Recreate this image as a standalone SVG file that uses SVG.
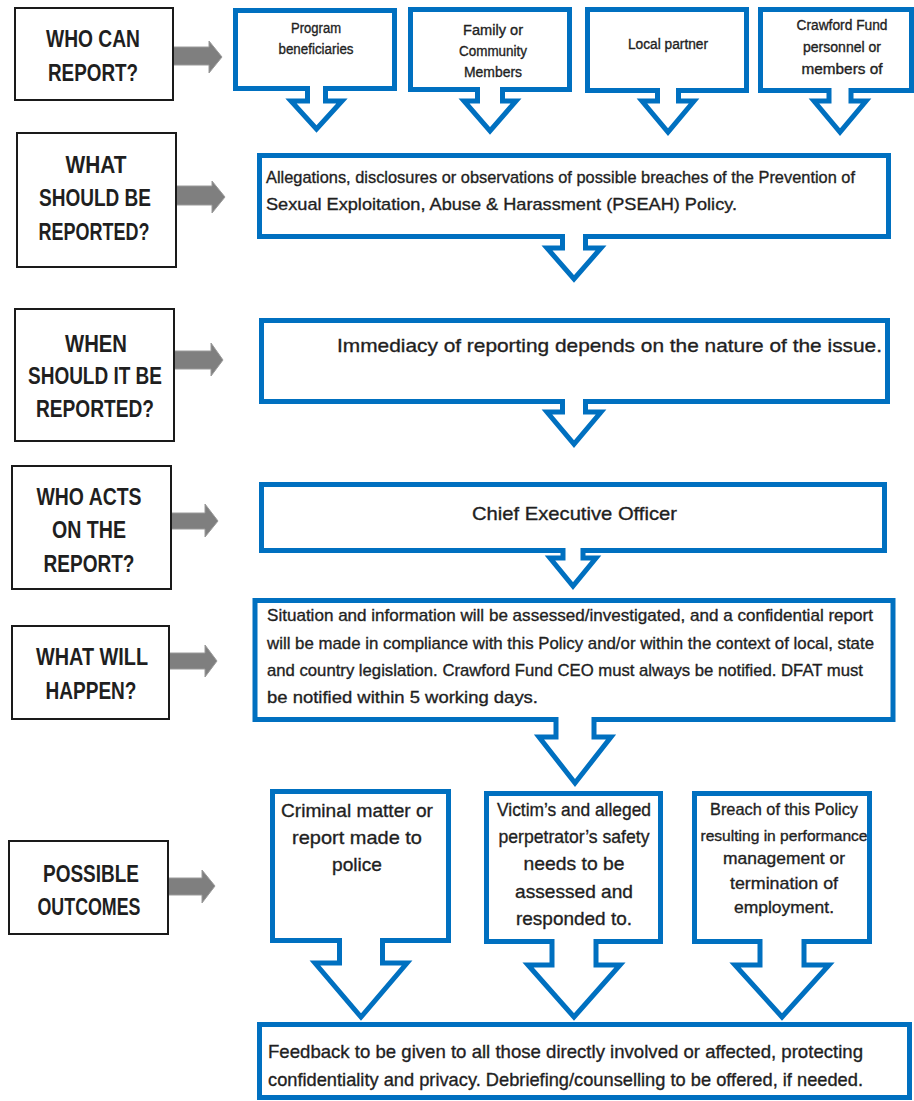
<svg xmlns="http://www.w3.org/2000/svg" width="914" height="1101" viewBox="0 0 914 1101">
<style>
.q{fill:#fff;stroke:#1a1a1a;stroke-width:2}
.c{fill:#fff;stroke:#0070C0;stroke-width:5;stroke-linejoin:miter}
.ga{fill:#7f7f7f;stroke:#9a9a9a;stroke-width:1}
.h{font-family:"Liberation Sans Narrow","Liberation Sans",Arial,sans-serif;font-weight:bold;font-size:23px;fill:#1f1f1f;text-anchor:middle}
.t{font-family:"Liberation Sans Narrow","Liberation Sans",Arial,sans-serif;fill:#1f1f1f;stroke:#1f1f1f;stroke-width:0.35}
.m{text-anchor:middle}
</style>
<rect width="914" height="1101" fill="#fff"/>
<g id="connectors">
<polygon class="ga" points="173,47 209,47 209,41 222,57 209,73 209,65 173,65"/>
<polygon class="ga" points="176,186 212,186 212,181 225,197 212,213 212,205 176,205"/>
<polygon class="ga" points="174,351 211,351 211,343 223,360 211,376 211,369 174,369"/>
<polygon class="ga" points="171,513 205,513 205,504 218,521 205,537 205,529 171,529"/>
<polygon class="ga" points="169,653 205,653 205,645 217,661 205,677 205,669 169,669"/>
<polygon class="ga" points="168,878 202,878 202,870 215,886 202,903 202,895 168,895"/>
</g>
<g id="q1"><rect class="q" x="15" y="8" width="158" height="92"/>
<text class="h" x="93" y="47" textLength="94" lengthAdjust="spacingAndGlyphs">WHO CAN</text>
<text class="h" x="93" y="81" textLength="90" lengthAdjust="spacingAndGlyphs">REPORT?</text></g>
<g id="q2"><rect class="q" x="17" y="133" width="159" height="134"/>
<text class="h" x="96" y="173" textLength="61" lengthAdjust="spacingAndGlyphs">WHAT</text>
<text class="h" x="95" y="206" textLength="112" lengthAdjust="spacingAndGlyphs">SHOULD BE</text>
<text class="h" x="94" y="240" textLength="111" lengthAdjust="spacingAndGlyphs">REPORTED?</text></g>
<g id="q3"><rect class="q" x="15" y="309" width="159" height="132"/>
<text class="h" x="96" y="352" textLength="62" lengthAdjust="spacingAndGlyphs">WHEN</text>
<text class="h" x="95" y="384" textLength="134" lengthAdjust="spacingAndGlyphs">SHOULD IT BE</text>
<text class="h" x="95" y="417" textLength="118" lengthAdjust="spacingAndGlyphs">REPORTED?</text></g>
<g id="q4"><rect class="q" x="12" y="466" width="159" height="123"/>
<text class="h" x="89" y="505" textLength="105" lengthAdjust="spacingAndGlyphs">WHO ACTS</text>
<text class="h" x="89" y="538" textLength="74" lengthAdjust="spacingAndGlyphs">ON THE</text>
<text class="h" x="89" y="572" textLength="91" lengthAdjust="spacingAndGlyphs">REPORT?</text></g>
<g id="q5"><rect class="q" x="12" y="626" width="157" height="93"/>
<text class="h" x="92" y="665" textLength="112" lengthAdjust="spacingAndGlyphs">WHAT WILL</text>
<text class="h" x="91" y="699" textLength="91" lengthAdjust="spacingAndGlyphs">HAPPEN?</text></g>
<g id="q6"><rect class="q" x="9" y="841" width="159" height="93"/>
<text class="h" x="91" y="882" textLength="96" lengthAdjust="spacingAndGlyphs">POSSIBLE</text>
<text class="h" x="89" y="915" textLength="103" lengthAdjust="spacingAndGlyphs">OUTCOMES</text></g>

<g id="who1"><path class="c" d="M235.5,10.5 H394.5 V88.5 H325.5 V101 H342 L316.5,129 L291,101 H307.5 V88.5 H235.5 Z"/>
<text class="t m" font-size="14" x="316" y="33" textLength="50" lengthAdjust="spacingAndGlyphs">Program</text>
<text class="t m" font-size="14" x="316" y="54" textLength="75" lengthAdjust="spacingAndGlyphs">beneficiaries</text></g>
<g id="who2"><path class="c" d="M410.5,9.5 H569.5 V89.5 H502.5 V101 H516 L490,131 L464,101 H477.5 V89.5 H410.5 Z"/>
<text class="t m" font-size="14" x="493" y="35" textLength="60" lengthAdjust="spacingAndGlyphs">Family or</text>
<text class="t m" font-size="14" x="493" y="56" textLength="68" lengthAdjust="spacingAndGlyphs">Community</text>
<text class="t m" font-size="14" x="493" y="77" textLength="58" lengthAdjust="spacingAndGlyphs">Members</text></g>
<g id="who3"><path class="c" d="M587.5,9.5 H746.5 V90.5 H678.5 V101 H694 L668,132 L642,101 H657.5 V90.5 H587.5 Z"/>
<text class="t m" font-size="14" x="668" y="49" textLength="80" lengthAdjust="spacingAndGlyphs">Local partner</text></g>
<g id="who4"><path class="c" d="M760.5,9.5 H911.5 V90.5 H851 V101 H866 L840,132 L814,101 H829 V90.5 H760.5 Z"/>
<text class="t m" font-size="14" x="842" y="30" textLength="91" lengthAdjust="spacingAndGlyphs">Crawford Fund</text>
<text class="t m" font-size="14" x="842" y="52" textLength="78" lengthAdjust="spacingAndGlyphs">personnel or</text>
<text class="t m" font-size="14" x="842" y="74" textLength="81" lengthAdjust="spacingAndGlyphs">members of</text></g>

<g id="what"><path class="c" d="M259.5,155.5 H888.5 V236.5 H585.5 V248 H601 L574,279 L547,248 H562.5 V236.5 H259.5 Z"/>
<text class="t" font-size="17" x="266" y="183" textLength="589" lengthAdjust="spacingAndGlyphs">Allegations, disclosures or observations of possible breaches of the Prevention of</text>
<text class="t" font-size="17" x="266" y="210" textLength="471" lengthAdjust="spacingAndGlyphs">Sexual Exploitation, Abuse &amp; Harassment (PSEAH) Policy.</text></g>

<g id="when"><path class="c" d="M261.5,320.5 H887.5 V401.5 H585.5 V412 H601 L574,444 L547,412 H562.5 V401.5 H261.5 Z"/>
<text class="t" font-size="19" x="337" y="352" textLength="545" lengthAdjust="spacingAndGlyphs">Immediacy of reporting depends on the nature of the issue.</text></g>

<g id="ceo"><path class="c" d="M261.5,484.5 H884.5 V550.5 H583 V558 H596 L573,586 L550,558 H563 V550.5 H261.5 Z"/>
<text class="t" font-size="19" x="472" y="520" textLength="205" lengthAdjust="spacingAndGlyphs">Chief Executive Officer</text></g>

<g id="happen"><path class="c" d="M255,600.5 H893 V719.5 H594 V737 H611 L575,783 L539,737 H556 V719.5 H255 Z"/>
<text class="t" font-size="17" x="267" y="621" textLength="606" lengthAdjust="spacingAndGlyphs">Situation and information will be assessed/investigated, and a confidential report</text>
<text class="t" font-size="17" x="267" y="649" textLength="607" lengthAdjust="spacingAndGlyphs">will be made in compliance with this Policy and/or within the context of local, state</text>
<text class="t" font-size="17" x="267" y="676" textLength="596" lengthAdjust="spacingAndGlyphs">and country legislation. Crawford Fund CEO must always be notified. DFAT must</text>
<text class="t" font-size="17" x="267" y="703" textLength="271" lengthAdjust="spacingAndGlyphs">be notified within 5 working days.</text></g>

<g id="out1"><path class="c" d="M272.5,791.5 H448.5 V940.5 H382.5 V963 H407 L361,1017 L315,963 H339.5 V940.5 H272.5 Z"/>
<text class="t m" font-size="19" x="357" y="817" textLength="152" lengthAdjust="spacingAndGlyphs">Criminal matter or</text>
<text class="t m" font-size="19" x="357" y="844" textLength="130" lengthAdjust="spacingAndGlyphs">report made to</text>
<text class="t m" font-size="19" x="357" y="871" textLength="50" lengthAdjust="spacingAndGlyphs">police</text></g>
<g id="out2"><path class="c" d="M486.5,793.5 H660.5 V941.5 H596 V965 H620 L574,1017 L528,965 H552 V941.5 H486.5 Z"/>
<text class="t m" font-size="19" x="574" y="816" textLength="154" lengthAdjust="spacingAndGlyphs">Victim’s and alleged</text>
<text class="t m" font-size="19" x="574" y="843" textLength="151" lengthAdjust="spacingAndGlyphs">perpetrator’s safety</text>
<text class="t m" font-size="19" x="574" y="870" textLength="101" lengthAdjust="spacingAndGlyphs">needs to be</text>
<text class="t m" font-size="19" x="574" y="898" textLength="118" lengthAdjust="spacingAndGlyphs">assessed and</text>
<text class="t m" font-size="19" x="574" y="925" textLength="116" lengthAdjust="spacingAndGlyphs">responded to.</text></g>
<g id="out3"><path class="c" d="M694.5,793.5 H869.5 V941.5 H804 V965 H829 L782,1017 L735,965 H760 V941.5 H694.5 Z"/>
<text class="t m" font-size="17" x="784" y="815" textLength="148" lengthAdjust="spacingAndGlyphs">Breach of this Policy</text>
<text class="t m" font-size="15" x="784" y="841" textLength="167" lengthAdjust="spacingAndGlyphs">resulting in performance</text>
<text class="t m" font-size="17" x="784" y="864" textLength="122" lengthAdjust="spacingAndGlyphs">management or</text>
<text class="t m" font-size="17" x="784" y="889" textLength="108" lengthAdjust="spacingAndGlyphs">termination of</text>
<text class="t m" font-size="17" x="784" y="913" textLength="100" lengthAdjust="spacingAndGlyphs">employment.</text></g>

<g id="feedback"><rect class="c" x="259.5" y="1024.5" width="650" height="73"/>
<text class="t" font-size="19" x="268" y="1058" textLength="595" lengthAdjust="spacingAndGlyphs">Feedback to be given to all those directly involved or affected, protecting</text>
<text class="t" font-size="19" x="268" y="1086" textLength="595" lengthAdjust="spacingAndGlyphs">confidentiality and privacy. Debriefing/counselling to be offered, if needed.</text></g>
</svg>
